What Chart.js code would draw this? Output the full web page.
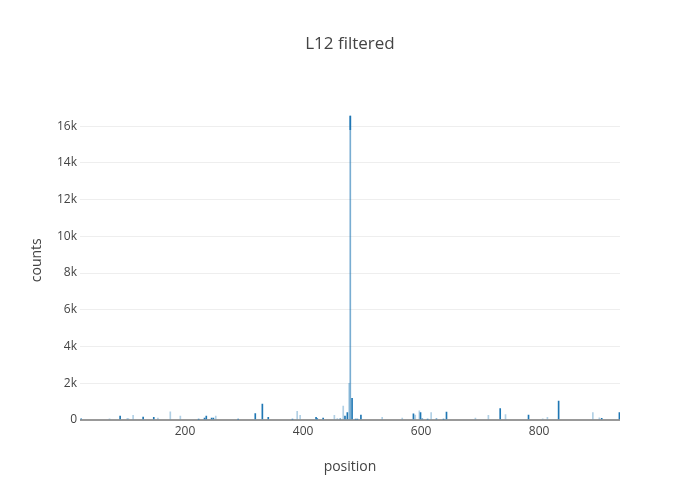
<!DOCTYPE html>
<html>
<head>
<meta charset="utf-8">
<script src="https://cdn.jsdelivr.net/npm/chart.js@4"></script>
<style>
  html, body { margin: 0; padding: 0; background: #fff; }
  #wrap { width: 700px; height: 500px; }
</style>
</head>
<body>
<div id="wrap"><canvas id="l12Chart" width="700" height="500"></canvas></div>
<script>
// positions and counts
const darkPositions = [24, 90, 129, 147, 223, 233, 236, 245, 248, 290, 319, 331, 341, 382, 422, 424, 434, 463, 471, 475, 483, 489, 492, 498, 587, 599, 602, 611, 626, 638, 643, 734, 782, 833, 906, 936];
const darkCounts    = [60, 220, 160, 140, 50, 110, 220, 110, 100, 50, 350, 860, 150, 50, 150, 80, 110, 70, 220, 400, 1180, 50, 50, 270, 330, 400, 60, 50, 70, 50, 430, 620, 270, 1030, 90, 400];

const lightPositions = [72, 102, 104, 112, 154, 175, 192, 252, 390, 395, 453, 458, 468, 478, 534, 568, 590, 597, 617, 692, 714, 743, 806, 814, 891, 902];
const lightCounts    = [60, 80, 80, 250, 100, 450, 220, 220, 470, 250, 260, 80, 760, 2000, 150, 110, 270, 500, 400, 100, 250, 290, 60, 150, 400, 120];

const peakPosition = 480;
const peakCount = 16550;
const peakTopFrom = 15800;

const yTicks = [0, 2000, 4000, 6000, 8000, 10000, 12000, 14000, 16000];

const blue = "#1f77b4";

function toPoints(xs, ys) {
    return xs.map(function (x, i) { return { x: x, y: ys[i] }; });
}

const ctx = document.getElementById("l12Chart");
new Chart(ctx, {
    type: "bar",
    data: {
        datasets: [
            {
                label: "light",
                data: toPoints(lightPositions, lightCounts),
                backgroundColor: "rgba(31,119,180,0.35)",
                barThickness: 1,
                grouped: false
            },
            {
                label: "peak",
                data: [{ x: peakPosition, y: peakCount }],
                backgroundColor: "rgba(31,119,180,0.6)",
                barThickness: 1,
                grouped: false
            },
            {
                label: "dark",
                data: toPoints(darkPositions, darkCounts).concat([{ x: peakPosition, y: [peakTopFrom, peakCount] }]),
                backgroundColor: blue,
                barThickness: 1,
                grouped: false
            }
        ]
    },
    options: {
        responsive: false,
        animation: false,
        layout: { padding: 0 },
        plugins: {
            legend: { display: false },
            tooltip: { enabled: false },
            title: {
                display: true,
                text: "L12 filtered",
                color: "#444",
                font: { family: "Open Sans", size: 17, weight: "normal" },
                padding: { top: 34, bottom: 46 }
            }
        },
        scales: {
            x: {
                type: "linear",
                min: 22,
                max: 937,
                offset: false,
                grid: { display: false, drawTicks: false, offset: false },
                border: { display: false },
                ticks: {
                    stepSize: 200,
                    includeBounds: false,
                    maxRotation: 0,
                    color: "#444",
                    padding: 4,
                    font: { family: "Open Sans", size: 12 }
                },
                title: {
                    display: true,
                    text: "position",
                    color: "#444",
                    font: { family: "Open Sans", size: 14 },
                    padding: { top: 0, bottom: 25 }
                },
                afterFit: function (s) { s.height = 80; }
            },
            y: {
                min: 0,
                max: 17400,
                grid: {
                    drawTicks: false,
                    color: function (c) { return c.tick && c.tick.value === 0 ? "#999" : "#eee"; },
                    lineWidth: function (c) { return c.tick && c.tick.value === 0 ? 2 : 1; }
                },
                border: { display: false },
                afterBuildTicks: function (s) {
                    s.ticks = yTicks.map(function (v) { return { value: v }; });
                },
                ticks: {
                    color: "#444",
                    padding: 3,
                    font: { family: "Open Sans", size: 12 },
                    callback: function (v) { return v === 0 ? "0" : (v / 1000) + "k"; }
                },
                title: {
                    display: true,
                    text: "counts",
                    color: "#444",
                    font: { family: "Open Sans", size: 14 },
                    padding: { top: 29, bottom: 0 }
                },
                afterFit: function (s) { s.width = 80; }
            },
            // empty right margin so the plot ends at 620 while the title stays centred on the page
            margin: {
                type: "linear",
                position: "right",
                display: true,
                grid: { display: false, drawTicks: false },
                border: { display: false },
                ticks: { display: false },
                afterFit: function (s) { s.width = 80; }
            }
        }
    }
});
</script>
</body>
</html>
